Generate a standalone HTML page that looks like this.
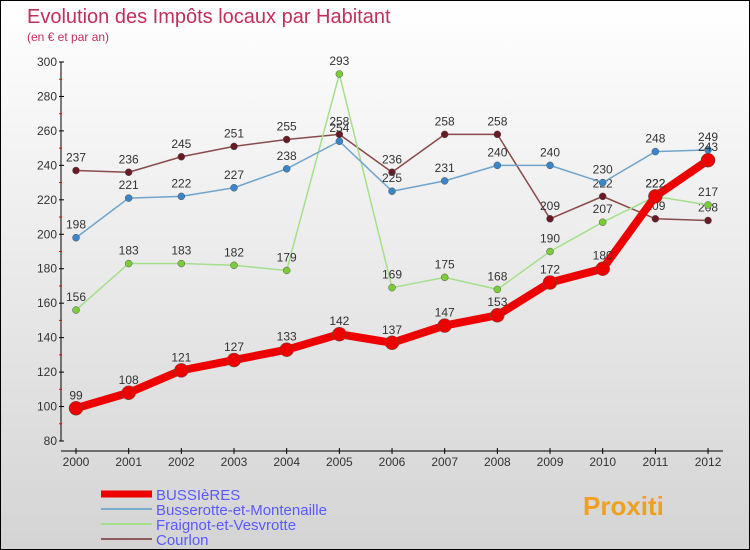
<!DOCTYPE html>
<html><head><meta charset="utf-8"><style>
body{margin:0}
#c{width:750px;height:550px;position:relative;border:1px solid #000;box-sizing:border-box;background:linear-gradient(#fff,#d4d4d4);font-family:"Liberation Sans",sans-serif;overflow:hidden}
text{font-family:"Liberation Sans",sans-serif}
</style></head><body>
<div id="c">
<svg id="s" width="750" height="550">
<text x="26" y="22" font-size="20" fill="#c0305a">Evolution des Impôts locaux par Habitant</text>
<text x="26" y="40" font-size="12" fill="#c0305a">(en € et par an)</text>
<g id="g"></g>
</svg>
</div>
<script>
const years=[2000,2001,2002,2003,2004,2005,2006,2007,2008,2009,2010,2011,2012];
const yTicks=[80,100,120,140,160,180,200,220,240,260,280,300];
const bussieres=[99,108,121,127,133,142,137,147,153,172,180,222,243];
const busserotte=[198,221,222,227,238,254,225,231,240,240,230,248,249];
const fraignot=[156,183,183,182,179,293,169,175,168,190,207,222,217];
const courlon=[237,236,245,251,255,258,236,258,258,209,222,209,208];
const NS='http://www.w3.org/2000/svg';
const g=document.getElementById('g');
const X=i=>75+i*52.67;
const Y=v=>440-(v-80)*(379/220);
function el(t,a,p){const e=document.createElementNS(NS,t);for(const k in a)e.setAttribute(k,a[k]);(p||g).appendChild(e);return e;}
// axes
let e=el('line',{x1:60,y1:Y(300),x2:60,y2:Y(80),stroke:'#000','stroke-width':1});


e=el('line',{x1:60,y1:450,x2:722,y2:450,stroke:'#000','stroke-width':1});


yTicks.forEach((v,i)=>{
 el('line',{x1:58,x2:63,y1:Y(v),y2:Y(v),stroke:'#000'});
 if(i<yTicks.length-1) el('line',{x1:58,x2:61,y1:Y(v+10),y2:Y(v+10),stroke:'#f00'});
 const t=el('text',{x:56,y:Y(v)+4,'font-size':12,fill:'#333','text-anchor':'end'});t.textContent=v;
 
 
});
years.forEach((y,i)=>{
 el('line',{x1:X(i),x2:X(i),y1:447,y2:453,stroke:'#000'});
 const t=el('text',{x:X(i),y:465,'font-size':12,fill:'#333','text-anchor':'middle'});t.textContent=y;
 
 
});
function series(vals,color,w,r,dot,name){
 const pts=vals.map((v,i)=>X(i)+','+Y(v)).join(' ');
 const pl=el('polyline',{points:pts,fill:'none',stroke:color,'stroke-width':w,'stroke-linejoin':'round'});
 
 
 vals.forEach((v,i)=>{
  const c=el('circle',{cx:X(i),cy:Y(v),r:r,fill:dot,stroke:'#555','stroke-width':0.5});
  
  
  const t=el('text',{x:X(i),y:Y(v)-9,'font-size':12,fill:'#333','text-anchor':'middle'});t.textContent=v;
  
  
 });
}
series(courlon,'#8a4a4a',1.5,3.5,'#6a1a24','courlon');
series(fraignot,'#a3e08a',1.5,3.5,'#7ccc3a','fraignot');
series(busserotte,'#6fa4cc',1.5,3.5,'#3a86c8','busserotte');
series(bussieres,'#ee0000',8,7,'#ee0000','bussieres');
// legend
const leg=[['BUSSIèRES','#ee0000',7],['Busserotte-et-Montenaille','#7aaed0',2],['Fraignot-et-Vesvrotte','#a3e08a',2],['Courlon','#8a5a5a',2]];
leg.forEach((l,i)=>{
 const y=493+i*15;
 const ln=el('line',{x1:100,x2:151,y1:y,y2:y,stroke:l[1],'stroke-width':l[2]});
 
 
 const t=el('text',{x:155,y:y+6,'font-size':15,fill:'#5a5aff'});t.textContent=l[0];
 
 
});
const lg=el('text',{x:582,y:514,'font-size':26,'font-weight':'bold',fill:'#f0a020'});lg.textContent='Proxiti';


</script>
</body></html>
